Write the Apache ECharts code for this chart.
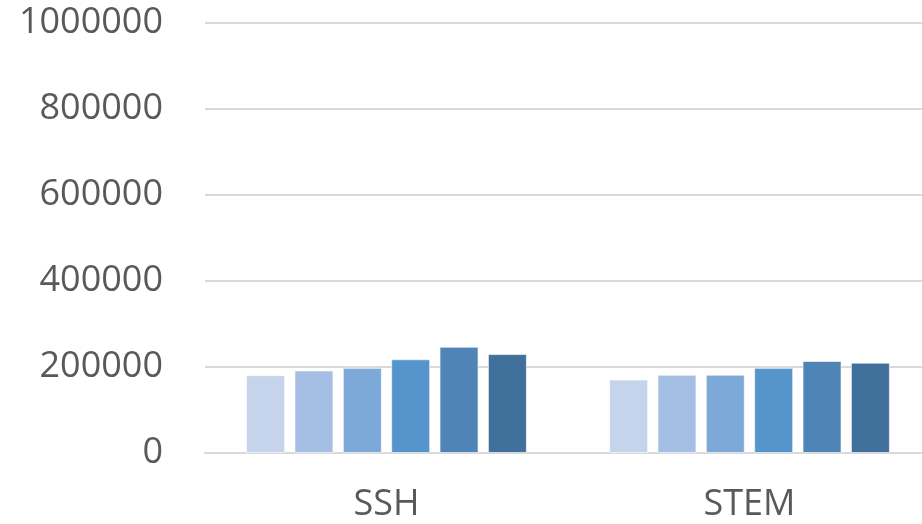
<!DOCTYPE html>
<html>
<head>
<meta charset="utf-8">
<script src="https://cdn.jsdelivr.net/npm/echarts@6/dist/echarts.min.js"></script>
<style>
  html, body { margin: 0; padding: 0; background: #fff; overflow: hidden; }
  #main { width: 931px; height: 524px; }
</style>
</head>
<body>
<div id="main"></div>
<script>
var categories = ['SSH', 'STEM'];
var s1 = [181000, 171000];
var s2 = [192000, 182000];
var s3 = [198000, 182000];
var s4 = [218000, 198000];
var s5 = [247000, 214000];
var s6 = [230000, 210000];
var colors = ['#C5D4EA', '#A4BFE3', '#7DA9D9', '#5694CC', '#4E84B6', '#42709C'];

var chart = echarts.init(document.getElementById('main'));

var allSeries = [s1, s2, s3, s4, s5, s6].map(function (d, i) {
    return {
        type: 'bar',
        data: d,
        barWidth: 39,
        barGap: '24%',
        itemStyle: {
            color: colors[i],
            borderColor: 'rgba(255,255,255,0.6)',
            borderWidth: 1
        }
    };
});

chart.setOption({
    animation: false,
    grid: {
        left: 205,
        right: 0,
        top: 23,
        bottom: 71
    },
    xAxis: {
        type: 'category',
        data: categories,
        axisTick: { show: false },
        axisLine: { lineStyle: { color: '#D9D9D9', width: 2 } },
        axisLabel: {
            color: '#595959',
            fontFamily: 'Open Sans',
            fontSize: 36,
            margin: 34
        }
    },
    yAxis: {
        type: 'value',
        min: 0,
        max: 1000000,
        interval: 200000,
        axisLine: { show: false },
        axisTick: { show: false },
        splitLine: { lineStyle: { color: '#D9D9D9', width: 2 } },
        axisLabel: {
            color: '#595959',
            fontFamily: 'Open Sans',
            fontSize: 36,
            margin: 42,
            formatter: function (v) { return String(v); }
        }
    },
    series: allSeries
});
</script>
</body>
</html>
